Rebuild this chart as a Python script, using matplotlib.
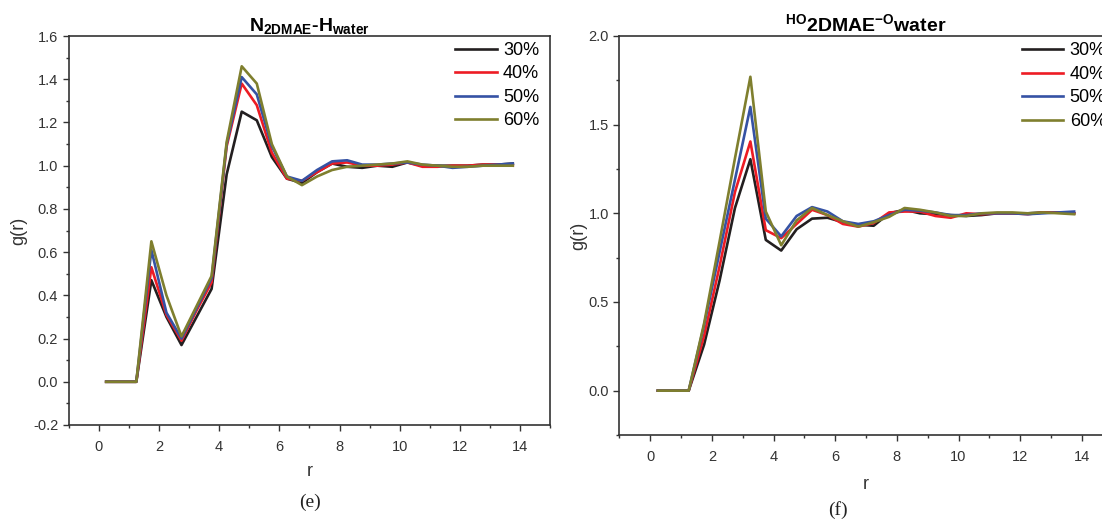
import matplotlib
matplotlib.use("Agg")
import matplotlib.pyplot as plt
from matplotlib.ticker import MultipleLocator

plt.rcParams['font.family'] = ['Liberation Sans', 'DejaVu Sans']
plt.rcParams['mathtext.fontset'] = 'custom'
plt.rcParams['mathtext.rm'] = 'Liberation Sans'
plt.rcParams['mathtext.bf'] = 'Liberation Sans:bold'

# r values (bin centres)
r = [0.25 + 0.5 * i for i in range(28)]

# N(2DMAE) - H(water)
e_30 = [0, 0, 0, 0.47, 0.30, 0.17, 0.30, 0.43, 0.96, 1.25, 1.21, 1.04, 0.94, 0.92,
        0.97, 1.01, 0.995, 0.99, 1.00, 0.995, 1.015, 1.00, 1.00, 1.00, 1.00, 1.005, 1.005, 1.01]
e_40 = [0, 0, 0, 0.53, 0.31, 0.19, 0.33, 0.46, 1.09, 1.38, 1.28, 1.06, 0.94, 0.93,
        0.97, 1.01, 1.015, 1.00, 1.00, 1.005, 1.015, 0.995, 0.995, 1.00, 1.00, 1.005, 1.005, 1.00]
e_50 = [0, 0, 0, 0.61, 0.32, 0.20, 0.34, 0.48, 1.10, 1.41, 1.33, 1.09, 0.95, 0.93,
        0.98, 1.02, 1.025, 1.005, 1.005, 1.01, 1.015, 1.005, 1.00, 0.99, 0.995, 1.00, 1.005, 1.01]
e_60 = [0, 0, 0, 0.65, 0.40, 0.21, 0.35, 0.49, 1.11, 1.46, 1.38, 1.10, 0.95, 0.91,
        0.95, 0.98, 0.995, 1.00, 1.005, 1.01, 1.02, 1.005, 1.00, 0.995, 0.995, 1.00, 1.00, 1.00]

# HO(2DMAE) - O(water)
f_30 = [0, 0, 0, 0.26, 0.62, 1.03, 1.305, 0.85, 0.79, 0.91, 0.97, 0.975, 0.95, 0.935,
        0.93, 1.00, 1.02, 1.00, 0.995, 0.99, 0.985, 0.99, 1.00, 1.00, 1.00, 1.005, 1.005, 1.00]
f_40 = [0, 0, 0, 0.31, 0.70, 1.12, 1.405, 0.905, 0.86, 0.94, 1.02, 0.99, 0.94, 0.925,
        0.945, 1.005, 1.01, 1.01, 0.985, 0.975, 1.00, 0.995, 1.00, 1.00, 0.995, 1.005, 1.005, 1.00]
f_50 = [0, 0, 0, 0.37, 0.78, 1.19, 1.60, 0.97, 0.87, 0.985, 1.035, 1.01, 0.955, 0.94,
        0.955, 0.99, 1.02, 1.015, 1.005, 0.99, 0.99, 1.00, 1.00, 1.00, 0.995, 1.00, 1.005, 1.01]
f_60 = [0, 0, 0, 0.38, 0.84, 1.31, 1.77, 1.01, 0.82, 0.96, 1.03, 0.99, 0.955, 0.925,
        0.95, 0.98, 1.03, 1.02, 1.005, 0.985, 0.985, 1.00, 1.005, 1.005, 1.00, 1.005, 1.00, 0.995]

labels = ['30%', '40%', '50%', '60%']
colors = ['#231f20', '#ed1c24', '#3552a4', '#7f7f2e']

fig = plt.figure(figsize=(11.02, 5.2), dpi=100)
ax1 = fig.add_axes([0.0622, 0.1827, 0.4373, 0.748])
ax2 = fig.add_axes([0.5620, 0.1635, 0.4477, 0.7673])


def style(ax, ylim, ymaj, ymin, xpad):
    ax.set_xlim(-1, 15)
    ax.set_ylim(*ylim)
    ax.xaxis.set_major_locator(MultipleLocator(2))
    ax.xaxis.set_minor_locator(MultipleLocator(1))
    ax.yaxis.set_major_locator(MultipleLocator(ymaj))
    ax.yaxis.set_minor_locator(MultipleLocator(ymin))
    ax.yaxis.set_major_formatter(plt.FormatStrFormatter('%.1f'))
    for s in ax.spines.values():
        s.set_color('#333333')
        s.set_linewidth(1.2)
    ax.tick_params(which='major', direction='out', length=4.5, width=1, color='#333333',
                   labelsize=10.5, labelcolor='#333333')
    ax.tick_params(which='minor', direction='out', length=2.5, width=1, color='#333333')
    ax.tick_params(axis='x', which='major', pad=6)
    ax.tick_params(axis='y', which='major', pad=3)
    ax.set_xlabel('r', fontsize=13, color='#333333', labelpad=xpad)


def add_legend(ax, x0, y0):
    ax.legend(loc='upper left', bbox_to_anchor=(x0, y0), frameon=False, fontsize=13,
              handlelength=2.3, handletextpad=0.35, labelspacing=0.36,
              borderpad=0, borderaxespad=0)


for ys, lab, c in zip([e_30, e_40, e_50, e_60], labels, colors):
    ax1.plot(r, ys, color=c, lw=1.9, label=lab)
style(ax1, (-0.2, 1.6), 0.2, 0.1, 7)
ax1.set_ylabel('g(r)', fontsize=13, color='#333333', labelpad=4)
ax1.set_title(r'$\mathbf{N_{2DMAE}}$-$\mathbf{H_{water}}$', fontsize=14,
              fontweight='bold', pad=3)
add_legend(ax1, 0.802, 0.985)

for ys, lab, c in zip([f_30, f_40, f_50, f_60], labels, colors):
    ax2.plot(r, ys, color=c, lw=1.9, label=lab)
style(ax2, (-0.25, 2.0), 0.5, 0.25, 9)
ax2.set_ylabel('g(r)', fontsize=13, color='#333333', labelpad=1)
ax2.set_title(r'${}^{\mathbf{HO}}\mathbf{2DMAE}{}^{\mathbf{-O}}\mathbf{water}$', fontsize=14,
              fontweight='bold', pad=3)
add_legend(ax2, 0.816, 0.984)

fig.text(310 / 1102, 1 - 502 / 520, '(e)', family=['Liberation Serif', 'DejaVu Serif'],
         fontsize=14, ha='center', va='center', color='#222222')
fig.text(838 / 1102, 1 - 510 / 520, '(f)', family=['Liberation Serif', 'DejaVu Serif'],
         fontsize=14, ha='center', va='center', color='#222222')

fig.savefig('out.png', dpi=100)
